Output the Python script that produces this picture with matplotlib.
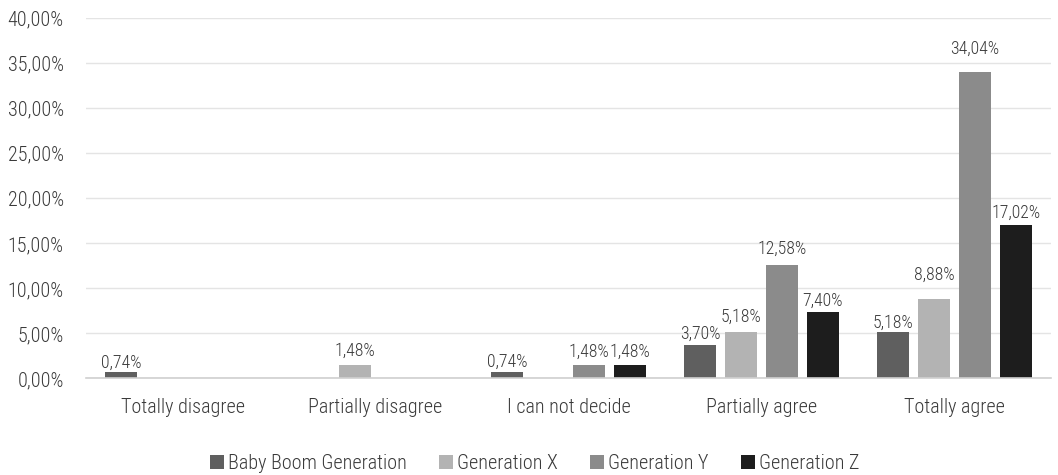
import matplotlib
matplotlib.use("Agg")
import matplotlib.pyplot as plt
from matplotlib import font_manager
import numpy as np

categories = ["Totally disagree", "Partially disagree", "I can not decide",
              "Partially agree", "Totally agree"]
series_names = ["Baby Boom Generation", "Generation X", "Generation Y", "Generation Z"]
baby_boom = [0.74, 0.00, 0.74, 3.70, 5.18]
gen_x = [0.00, 1.48, 0.00, 5.18, 8.88]
gen_y = [0.00, 0.00, 1.48, 12.58, 34.04]
gen_z = [0.00, 0.00, 1.48, 7.40, 17.02]
series_colors = ["#5f5f5f", "#b3b3b3", "#8b8b8b", "#1d1d1d"]
y_ticks = [0, 5, 10, 15, 20, 25, 30, 35, 40]

# gap (pixels) between each bar top and the baseline of its value label
label_gaps = [
    [4, 0, 5, 6, 4],
    [0, 9, 0, 10, 19],
    [0, 0, 8, 11, 18],
    [0, 0, 8, 6, 7],
]

available = {f.name for f in font_manager.fontManager.ttflist}
family = "Roboto Condensed" if "Roboto Condensed" in available else "Roboto"
plt.rcParams["font.family"] = [family, "DejaVu Sans"]
plt.rcParams["font.weight"] = "light"

text_color = "#3a3a3a"
DPI = 100

fig = plt.figure(figsize=(10.58, 4.75), dpi=DPI)
ax = fig.add_axes([0.0813, 0.2032, 0.912, 0.7583])

x = np.arange(len(categories))
step = 0.212
width = 0.166
all_series = [baby_boom, gen_x, gen_y, gen_z]
for i, (vals, name, col) in enumerate(zip(all_series, series_names, series_colors)):
    pos = x + (i - 1.5) * step
    bars = ax.bar(pos, vals, width=width, color=col, label=name, zorder=3)
    for j, (b, v) in enumerate(zip(bars, vals)):
        if v > 0:
            lbl = f"{v:.2f}%".replace(".", ",")
            ax.annotate(lbl, (b.get_x() + b.get_width() / 2, v),
                        xytext=(0, label_gaps[i][j] * 72 / DPI),
                        textcoords="offset points",
                        ha="center", va="baseline", fontsize=12.8,
                        color=text_color)

ax.set_xlim(-0.5, len(categories) - 0.5)
ax.set_ylim(0, 40)
ax.set_yticks(y_ticks)
ax.set_yticklabels([f"{t:.2f}%".replace(".", ",") for t in y_ticks])
ax.set_xticks(x)
ax.set_xticklabels(categories)
ax.tick_params(axis="both", length=0, labelsize=14.5, colors=text_color)
ax.tick_params(axis="y", pad=16)
ax.tick_params(axis="x", pad=14)

ax.grid(axis="y", color="#e4e4e4", linewidth=1, zorder=0)
for side in ["top", "right", "left"]:
    ax.spines[side].set_visible(False)
ax.spines["bottom"].set_color("#d0d0d0")
ax.spines["bottom"].set_linewidth(1.2)
ax.spines["bottom"].set_zorder(4)

leg = fig.legend(loc="center", bbox_to_anchor=(0.505, 0.025), ncol=4,
                 frameon=False, fontsize=14.5, handlelength=0.7,
                 handleheight=0.7, handletextpad=0.2, columnspacing=1.6)
for t in leg.get_texts():
    t.set_color(text_color)

fig.savefig("out.png", dpi=DPI)
